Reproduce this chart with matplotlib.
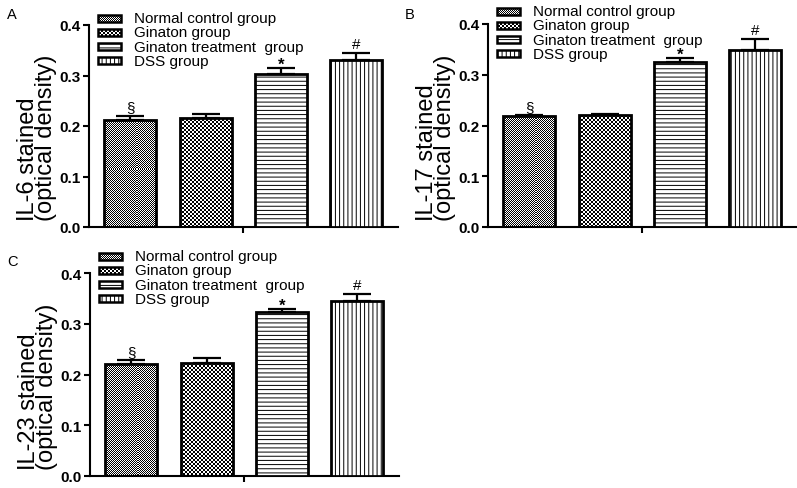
import numpy as np
import matplotlib
matplotlib.use("Agg")
import matplotlib.pyplot as plt
from matplotlib.patches import Rectangle

plt.rcParams['font.family'] = ['Liberation Sans', 'DejaVu Sans']
plt.rcParams['hatch.linewidth'] = 0.7

# ---------------- data ----------------
categories = ["Normal control group", "Ginaton group",
              "Ginaton treatment  group", "DSS group"]
il6_mean = [0.212, 0.215, 0.303, 0.330]
il6_err = [0.008, 0.009, 0.011, 0.014]
il17_mean = [0.218, 0.220, 0.325, 0.348]
il17_err = [0.002, 0.002, 0.008, 0.022]
il23_mean = [0.220, 0.222, 0.324, 0.344]
il23_err = [0.008, 0.010, 0.005, 0.015]
markers = ["§", "", "*", "#"]
ylabels_line1 = ["IL-6 stained", "IL-17 stained", "IL-23 stained"]
ylabel_line2 = "(optical density)"
panel_letters = ["A", "B", "C"]
yticks = [0.0, 0.1, 0.2, 0.3, 0.4]

# fill style per group: ('checker', cell px) or ('hatch', pattern)
styles = [("checker", 1), ("checker", 2), ("hatch", "----"), ("hatch", "||||")]
# vertical text offsets (points) of the significance markers
marker_style = {"§": dict(dy=1.0, size=11, weight='normal'),
                "*": dict(dy=-2.5, size=12, weight='bold'),
                "#": dict(dy=1.5, size=11, weight='normal')}

W, H = 797, 489
fig = plt.figure(figsize=(W / 100, H / 100), dpi=100)

# panel geometry in pixels
panels = [
    dict(spine=89, top=26, bottom=228, leg_y=19, letter=(7, 8)),
    dict(spine=488, top=25, bottom=228, leg_y=12, letter=(405, 8)),
    dict(spine=90, top=274, bottom=477, leg_y=257, letter=(7, 255)),
]
means = [il6_mean, il17_mean, il23_mean]
errs = [il6_err, il17_err, il23_err]

AX_W = 308.5
BAR_W = 0.69
XLIM = (-0.545, 3.545)

ov = fig.add_axes([0, 0, 1, 1], zorder=10)
ov.set_xlim(0, W)
ov.set_ylim(H, 0)
ov.axis('off')


def add_checker(ax, patch, cell, zorder):
    bb = patch.get_window_extent()
    x0 = np.floor(bb.x0)
    y0 = np.floor(bb.y0)
    nx = int(np.ceil((bb.x1 - x0) / cell)) + 1
    ny = int(np.ceil((bb.y1 - y0) / cell)) + 1
    arr = (np.add.outer(np.arange(ny), np.arange(nx)) % 2).astype(float)
    inv = ax.transData.inverted()
    dx0, dy0 = inv.transform((x0, y0))
    dx1, dy1 = inv.transform((x0 + nx * cell, y0 + ny * cell))
    xl, yl = ax.get_xlim(), ax.get_ylim()
    im = ax.imshow(arr, cmap='gray', vmin=0, vmax=1,
                   extent=(dx0, dx1, min(dy0, dy1), max(dy0, dy1)),
                   interpolation='nearest', aspect='auto', origin='lower',
                   zorder=zorder)
    im.set_clip_path(patch)
    ax.set_xlim(xl)
    ax.set_ylim(yl)


x = np.arange(len(categories))
for i, p in enumerate(panels):
    h = p['bottom'] - p['top']
    ax = fig.add_axes([p['spine'] / W, 1 - p['bottom'] / H, AX_W / W, h / H])
    ax.set_xlim(*XLIM)
    ax.set_ylim(0, 0.4)
    for s in ['top', 'right']:
        ax.spines[s].set_visible(False)
    for s in ['left', 'bottom']:
        ax.spines[s].set_linewidth(1.5)
    ax.set_yticks(yticks)
    ax.set_yticklabels([f"{t:.1f}" for t in yticks], fontweight='bold', fontsize=11)
    ax.set_xticks([1.5])
    ax.set_xticklabels([])
    ax.tick_params(axis='both', direction='out', length=4.5, width=1.5, pad=1.5)

    m = means[i]
    e = errs[i]
    for j in range(len(categories)):
        kind, val = styles[j]
        if kind == "checker":
            bar = ax.bar(x[j], m[j], width=BAR_W, facecolor='none',
                         edgecolor='black', linewidth=2.0, zorder=3)[0]
            add_checker(ax, bar, val, zorder=2)
        else:
            ax.bar(x[j], m[j], width=BAR_W, facecolor='white', hatch=val,
                   edgecolor='black', linewidth=2.0, zorder=3)
    ax.errorbar(x, m, yerr=[np.zeros(len(m)), e], fmt='none', ecolor='black',
                elinewidth=1.6, capsize=10, capthick=1.6, zorder=4)
    for j, s in enumerate(markers):
        if s:
            st = marker_style[s]
            ax.annotate(s, (x[j], m[j] + e[j]), xytext=(0, st['dy']),
                        textcoords='offset points', ha='center', va='bottom',
                        fontsize=st['size'], fontweight=st['weight'],
                        annotation_clip=False)

    # y label (two lines, left aligned from bottom)
    sp = p['spine']
    ov.text(sp - 32, p['bottom'] - 7,
            ylabels_line1[i] + "\n" + ylabel_line2, rotation=90,
            rotation_mode='anchor', ha='left', va='bottom',
            multialignment='left', linespacing=0.78, fontsize=17)

    # panel letter
    ov.text(p['letter'][0], p['letter'][1], panel_letters[i], ha='left',
            va='top', fontsize=10.5)

    # legend
    for j, cat in enumerate(categories):
        yc = p['leg_y'] + j * 14.3
        kind, val = styles[j]
        if kind == "checker":
            r = Rectangle((sp + 9, yc - 3.5), 23, 7, facecolor='none',
                          edgecolor='black', linewidth=1.8, zorder=3)
            ov.add_patch(r)
            add_checker(ov, r, val, zorder=2)
        else:
            r = Rectangle((sp + 9, yc - 3.5), 23, 7, facecolor='white',
                          hatch=val, edgecolor='black', linewidth=1.8, zorder=3)
            ov.add_patch(r)
        ov.text(sp + 45, yc, cat, ha='left', va='center', fontsize=11)

fig.savefig("out.png", dpi=100)
